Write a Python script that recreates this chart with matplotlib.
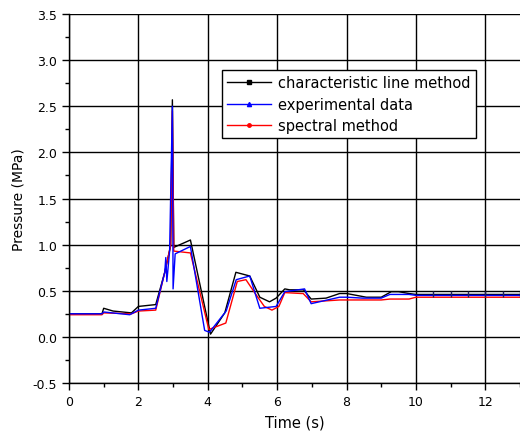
import matplotlib
matplotlib.use("Agg")
import matplotlib.pyplot as plt
from matplotlib.lines import Line2D
from matplotlib.ticker import MultipleLocator, FormatStrFormatter

plt.rcParams['axes.unicode_minus'] = False
plt.rcParams['font.family'] = ['DejaVu Sans']

# characteristic line method
t_char = [0, 0.95, 1.0, 1.27, 1.8, 2.0, 2.5, 2.76, 2.93, 2.98, 3.02, 3.5, 4.08, 4.49,
          4.81, 5.21, 5.5, 5.78, 5.97, 6.22, 6.36, 6.76, 6.98, 7.41, 7.8, 8.0, 8.57,
          9.0, 9.29, 9.5, 9.8, 10.0, 10.5, 11.0, 11.5, 12.0, 12.5, 13.0]
p_char = [0.25, 0.25, 0.31, 0.28, 0.26, 0.33, 0.35, 0.70, 0.99, 2.57, 0.97, 1.05, 0.03, 0.26,
          0.70, 0.66, 0.43, 0.38, 0.42, 0.52, 0.51, 0.51, 0.41, 0.42, 0.47, 0.47, 0.43,
          0.43, 0.49, 0.49, 0.47, 0.46, 0.46, 0.46, 0.46, 0.46, 0.46, 0.46]

# experimental data
t_exp = [0, 0.95, 1.0, 1.75, 2.0, 2.5, 2.76, 2.79, 2.82, 2.9, 2.98, 3.0, 3.06, 3.5, 3.91,
         4.05, 4.53, 4.82, 5.21, 5.5, 5.97, 6.22, 6.79, 6.98, 7.8, 8.0, 8.47, 9.0, 9.25,
         9.8, 10.0, 10.5, 11.0, 11.5, 12.0, 12.5, 13.0]
p_exp = [0.25, 0.25, 0.27, 0.24, 0.29, 0.31, 0.70, 0.86, 0.60, 0.93, 2.50, 0.52, 0.90, 0.98, 0.07,
         0.05, 0.28, 0.62, 0.66, 0.31, 0.33, 0.49, 0.52, 0.36, 0.43, 0.43, 0.42, 0.42, 0.46,
         0.46, 0.45, 0.45, 0.45, 0.45, 0.45, 0.45, 0.45]

# spectral method
t_spec = [0, 0.95, 1.0, 1.8, 2.0, 2.5, 2.76, 2.93, 2.98, 3.02, 3.5, 4.03, 4.52, 4.85, 5.1,
          5.35, 5.63, 5.85, 6.05, 6.22, 6.7, 6.75, 6.98, 7.8, 9.0, 9.25, 9.8, 10.0, 10.5,
          11.0, 11.5, 12.0, 12.5, 13.0]
p_spec = [0.24, 0.24, 0.26, 0.25, 0.28, 0.29, 0.70, 0.99, 2.45, 0.93, 0.91, 0.08, 0.15, 0.60, 0.62,
          0.48, 0.33, 0.29, 0.33, 0.48, 0.47, 0.47, 0.38, 0.40, 0.40, 0.41, 0.41, 0.43, 0.43,
          0.43, 0.43, 0.43, 0.43, 0.43]

labels = ["characteristic line method", "experimental data", "spectral method"]

fig = plt.figure(figsize=(5.2, 4.39), dpi=100)
ax = fig.add_axes([0.1327, 0.1253, 0.8673, 0.8405])

ax.plot(t_char, p_char, color='black', lw=1.0)
ax.plot(t_spec, p_spec, color='red', lw=1.0)
ax.plot(t_exp, p_exp, color='blue', lw=1.0)
# black tick markers on the flat tail
tail = [i for i, t in enumerate(t_char) if t >= 10.5]
ax.plot([t_char[i] for i in tail], [p_char[i] for i in tail], ls='none',
        marker='|', ms=5, mew=1.0, color='#202060')

ax.set_xlim(0, 13)
ax.set_ylim(-0.5, 3.5)
ax.xaxis.set_major_locator(MultipleLocator(2))
ax.xaxis.set_minor_locator(MultipleLocator(1))
ax.yaxis.set_major_locator(MultipleLocator(0.5))
ax.yaxis.set_minor_locator(MultipleLocator(0.25))
ax.yaxis.set_major_formatter(FormatStrFormatter('%.1f'))

ax.spines['top'].set_visible(False)
ax.spines['right'].set_visible(False)
for s in ('left', 'bottom'):
    ax.spines[s].set_linewidth(1.0)

ax.tick_params(which='major', direction='out', length=5, width=1.0, labelsize=9)
ax.tick_params(which='minor', direction='out', length=3, width=1.0)

ax.grid(True, which='major', color='black', lw=1.0)
ax.set_axisbelow(True)
ax.yaxis.get_gridlines()[-1].set_visible(False)

ax.set_xlabel("Time (s)", fontsize=10.5, labelpad=5)
ax.set_ylabel("Pressure (MPa)", fontsize=10, labelpad=5)

handles = [
    Line2D([], [], color='black', lw=1.0, marker='s', ms=2.5),
    Line2D([], [], color='blue', lw=1.0, marker='^', ms=3),
    Line2D([], [], color='red', lw=1.0, marker='o', ms=2.5),
]
leg = ax.legend(handles, labels, loc='upper left', bbox_to_anchor=(0.339, 0.848),
                borderaxespad=0, fancybox=False, framealpha=1, edgecolor='black',
                fontsize=10.5, handlelength=3.0, labelspacing=0.45, borderpad=0.35,
                handletextpad=0.5)
leg.get_frame().set_linewidth(1.0)

fig.savefig("out.png", dpi=100)
